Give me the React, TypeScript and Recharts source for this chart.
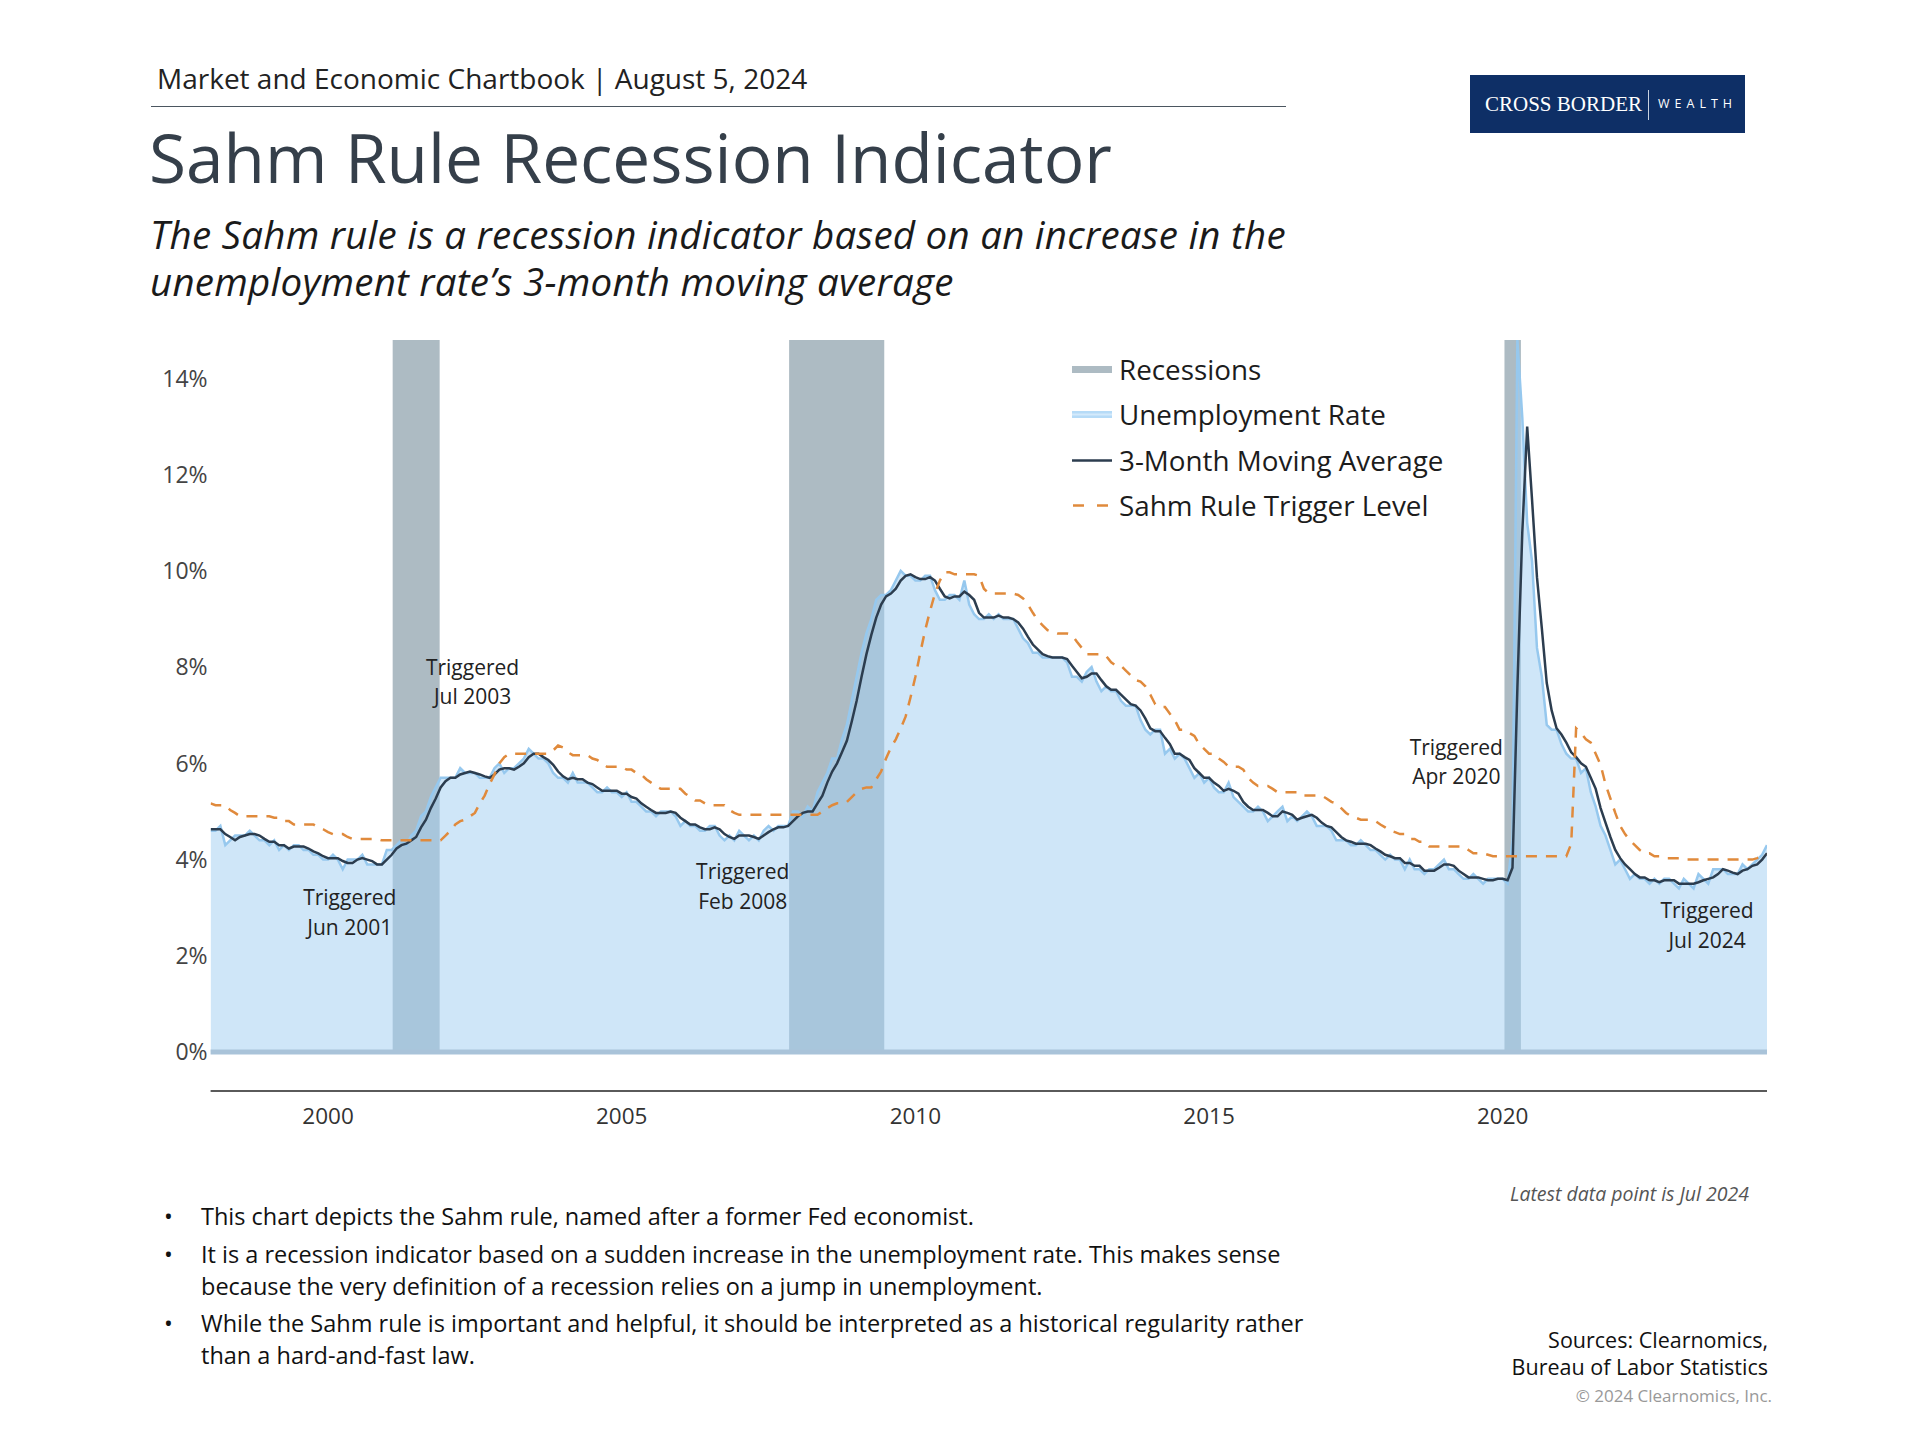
import React from 'react';
import {
  ComposedChart,
  Area,
  Line,
  XAxis,
  YAxis,
  ReferenceArea,
  ReferenceLine,
  ReferenceDot,
  Legend,
} from 'recharts';

// ---------- DATA (monthly, Jan 1998 .. Jul 2024) ----------
const FIRST_YEAR = 1998;

const unemploymentRate: number[] = [
  4.6, 4.6, 4.7, 4.3, 4.4, 4.5, 4.5, 4.5, 4.6, 4.5, 4.4, 4.4, // 1998
  4.3, 4.4, 4.2, 4.3, 4.2, 4.3, 4.3, 4.2, 4.2, 4.1, 4.1, 4.0, // 1999
  4.0, 4.1, 4.0, 3.8, 4.0, 4.0, 4.0, 4.1, 3.9, 3.9, 3.9, 3.9, // 2000
  4.2, 4.2, 4.3, 4.4, 4.3, 4.5, 4.6, 4.9, 5.0, 5.3, 5.5, 5.7, // 2001
  5.7, 5.7, 5.7, 5.9, 5.8, 5.8, 5.8, 5.7, 5.7, 5.7, 5.9, 6.0, // 2002
  5.8, 5.9, 5.9, 6.0, 6.1, 6.3, 6.2, 6.1, 6.1, 6.0, 5.8, 5.7, // 2003
  5.7, 5.6, 5.8, 5.6, 5.6, 5.6, 5.5, 5.4, 5.4, 5.5, 5.4, 5.4, // 2004
  5.3, 5.4, 5.2, 5.2, 5.1, 5.0, 5.0, 4.9, 5.0, 5.0, 5.0, 4.9, // 2005
  4.7, 4.8, 4.7, 4.7, 4.6, 4.6, 4.7, 4.7, 4.5, 4.4, 4.5, 4.4, // 2006
  4.6, 4.5, 4.4, 4.5, 4.4, 4.6, 4.7, 4.6, 4.7, 4.7, 4.7, 5.0, // 2007
  5.0, 4.9, 5.1, 5.0, 5.4, 5.6, 5.8, 6.1, 6.1, 6.5, 6.8, 7.3, // 2008
  7.8, 8.3, 8.7, 9.0, 9.4, 9.5, 9.5, 9.6, 9.8, 10.0, 9.9, 9.9, // 2009
  9.8, 9.8, 9.9, 9.9, 9.6, 9.4, 9.4, 9.5, 9.5, 9.4, 9.8, 9.3, // 2010
  9.1, 9.0, 9.0, 9.1, 9.0, 9.1, 9.0, 9.0, 9.0, 8.8, 8.6, 8.5, // 2011
  8.3, 8.3, 8.2, 8.2, 8.2, 8.2, 8.2, 8.1, 7.8, 7.8, 7.7, 7.9, // 2012
  8.0, 7.7, 7.5, 7.6, 7.5, 7.5, 7.3, 7.2, 7.2, 7.2, 6.9, 6.7, // 2013
  6.6, 6.7, 6.7, 6.2, 6.3, 6.1, 6.2, 6.1, 5.9, 5.7, 5.8, 5.6, // 2014
  5.7, 5.5, 5.4, 5.4, 5.6, 5.3, 5.2, 5.1, 5.0, 5.0, 5.1, 5.0, // 2015
  4.8, 4.9, 5.0, 5.1, 4.8, 4.9, 4.8, 4.9, 5.0, 4.9, 4.7, 4.7, // 2016
  4.7, 4.6, 4.4, 4.4, 4.4, 4.3, 4.3, 4.4, 4.3, 4.2, 4.2, 4.1, // 2017
  4.0, 4.1, 4.0, 4.0, 3.8, 4.0, 3.8, 3.8, 3.7, 3.8, 3.8, 3.9, // 2018
  4.0, 3.8, 3.8, 3.7, 3.6, 3.6, 3.7, 3.6, 3.5, 3.6, 3.6, 3.6, // 2019
  3.6, 3.5, 4.4, 14.8, 13.2, 11.0, 10.2, 8.4, 7.8, 6.8, 6.7, 6.7, // 2020
  6.4, 6.2, 6.1, 6.1, 5.8, 5.9, 5.4, 5.1, 4.7, 4.5, 4.2, 3.9, // 2021
  4.0, 3.8, 3.6, 3.7, 3.6, 3.6, 3.5, 3.6, 3.5, 3.6, 3.6, 3.5, // 2022
  3.4, 3.6, 3.5, 3.4, 3.7, 3.6, 3.5, 3.8, 3.8, 3.8, 3.7, 3.7, // 2023
  3.7, 3.9, 3.8, 3.9, 4.0, 4.1, 4.3, // 2024
];

const movingAverage3M: number[] = [
  4.63, 4.63, 4.63, 4.53, 4.47, 4.40, 4.47, 4.50, 4.53, 4.53, 4.50, 4.43, // 1998
  4.37, 4.37, 4.30, 4.30, 4.23, 4.27, 4.27, 4.27, 4.23, 4.17, 4.13, 4.07, // 1999
  4.03, 4.03, 4.03, 3.97, 3.93, 3.93, 4.00, 4.03, 4.00, 3.97, 3.90, 3.90, // 2000
  4.00, 4.10, 4.23, 4.30, 4.33, 4.40, 4.47, 4.67, 4.83, 5.07, 5.27, 5.50, // 2001
  5.63, 5.70, 5.70, 5.77, 5.80, 5.83, 5.80, 5.77, 5.73, 5.70, 5.77, 5.87, // 2002
  5.90, 5.90, 5.87, 5.93, 6.00, 6.13, 6.20, 6.20, 6.13, 6.07, 5.97, 5.83, // 2003
  5.73, 5.67, 5.70, 5.67, 5.67, 5.60, 5.57, 5.50, 5.43, 5.43, 5.43, 5.43, // 2004
  5.37, 5.37, 5.30, 5.27, 5.17, 5.10, 5.03, 4.97, 4.97, 4.97, 5.00, 4.97, // 2005
  4.87, 4.80, 4.73, 4.73, 4.67, 4.63, 4.63, 4.67, 4.63, 4.53, 4.47, 4.43, // 2006
  4.50, 4.50, 4.50, 4.47, 4.43, 4.50, 4.57, 4.63, 4.67, 4.67, 4.70, 4.80, // 2007
  4.90, 4.97, 5.00, 5.00, 5.17, 5.33, 5.60, 5.83, 6.00, 6.23, 6.47, 6.87, // 2008
  7.30, 7.80, 8.27, 8.67, 9.03, 9.30, 9.47, 9.53, 9.63, 9.80, 9.90, 9.93, // 2009
  9.87, 9.83, 9.83, 9.87, 9.80, 9.63, 9.47, 9.43, 9.47, 9.47, 9.57, 9.50, // 2010
  9.40, 9.13, 9.03, 9.03, 9.03, 9.07, 9.03, 9.03, 9.00, 8.93, 8.80, 8.63, // 2011
  8.47, 8.37, 8.27, 8.23, 8.20, 8.20, 8.20, 8.17, 8.03, 7.90, 7.77, 7.80, // 2012
  7.87, 7.87, 7.73, 7.60, 7.53, 7.53, 7.43, 7.33, 7.23, 7.20, 7.10, 6.93, // 2013
  6.73, 6.67, 6.67, 6.53, 6.40, 6.20, 6.20, 6.13, 6.07, 5.90, 5.80, 5.70, // 2014
  5.70, 5.60, 5.53, 5.43, 5.47, 5.43, 5.37, 5.20, 5.10, 5.03, 5.03, 5.03, // 2015
  4.97, 4.90, 4.90, 5.00, 4.97, 4.93, 4.83, 4.87, 4.90, 4.93, 4.87, 4.77, // 2016
  4.70, 4.67, 4.57, 4.47, 4.40, 4.37, 4.33, 4.33, 4.33, 4.30, 4.23, 4.17, // 2017
  4.10, 4.07, 4.03, 4.03, 3.93, 3.93, 3.87, 3.87, 3.77, 3.77, 3.77, 3.83, // 2018
  3.90, 3.90, 3.87, 3.77, 3.70, 3.63, 3.63, 3.63, 3.60, 3.57, 3.57, 3.60, // 2019
  3.60, 3.57, 3.83, 7.57, 10.80, 13.00, 11.47, 9.87, 8.80, 7.67, 7.10, 6.73, // 2020
  6.60, 6.43, 6.23, 6.13, 6.00, 5.93, 5.70, 5.47, 5.07, 4.77, 4.47, 4.20, // 2021
  4.03, 3.90, 3.80, 3.70, 3.63, 3.63, 3.57, 3.57, 3.53, 3.57, 3.57, 3.57, // 2022
  3.50, 3.50, 3.50, 3.50, 3.53, 3.57, 3.60, 3.63, 3.70, 3.80, 3.77, 3.73, // 2023
  3.70, 3.77, 3.80, 3.87, 3.90, 4.00, 4.13, // 2024
];

const sahmTriggerLevel: number[] = [
  5.17, 5.13, 5.13, 5.13, 5.03, 4.97, 4.90, 4.90, 4.90, 4.90, 4.90, 4.90, // 1998
  4.90, 4.87, 4.87, 4.80, 4.80, 4.73, 4.73, 4.73, 4.73, 4.73, 4.67, 4.63, // 1999
  4.57, 4.53, 4.53, 4.53, 4.47, 4.43, 4.43, 4.43, 4.43, 4.43, 4.43, 4.40, // 2000
  4.40, 4.40, 4.40, 4.40, 4.40, 4.40, 4.40, 4.40, 4.40, 4.40, 4.40, 4.40, // 2001
  4.50, 4.60, 4.73, 4.80, 4.83, 4.90, 4.97, 5.17, 5.33, 5.57, 5.77, 6.00, // 2002
  6.13, 6.20, 6.20, 6.20, 6.20, 6.20, 6.20, 6.20, 6.20, 6.20, 6.27, 6.37, // 2003
  6.33, 6.23, 6.17, 6.17, 6.17, 6.17, 6.10, 6.07, 6.00, 5.93, 5.93, 5.93, // 2004
  5.93, 5.87, 5.87, 5.80, 5.77, 5.67, 5.60, 5.53, 5.47, 5.47, 5.47, 5.47, // 2005
  5.47, 5.37, 5.30, 5.23, 5.23, 5.17, 5.13, 5.13, 5.13, 5.13, 5.03, 4.97, // 2006
  4.93, 4.93, 4.93, 4.93, 4.93, 4.93, 4.93, 4.93, 4.93, 4.93, 4.93, 4.93, // 2007
  4.93, 4.93, 4.93, 4.93, 4.93, 5.00, 5.07, 5.13, 5.17, 5.17, 5.20, 5.30, // 2008
  5.40, 5.47, 5.50, 5.50, 5.67, 5.83, 6.10, 6.33, 6.50, 6.73, 6.97, 7.37, // 2009
  7.80, 8.30, 8.77, 9.17, 9.53, 9.80, 9.97, 9.97, 9.93, 9.93, 9.93, 9.93, // 2010
  9.93, 9.90, 9.63, 9.53, 9.53, 9.53, 9.53, 9.53, 9.53, 9.50, 9.43, 9.30, // 2011
  9.13, 8.97, 8.87, 8.77, 8.73, 8.70, 8.70, 8.70, 8.67, 8.53, 8.40, 8.27, // 2012
  8.27, 8.27, 8.27, 8.23, 8.10, 8.03, 8.03, 7.93, 7.83, 7.73, 7.70, 7.60, // 2013
  7.43, 7.23, 7.17, 7.17, 7.03, 6.90, 6.70, 6.70, 6.63, 6.57, 6.40, 6.30, // 2014
  6.20, 6.20, 6.10, 6.03, 5.93, 5.93, 5.93, 5.87, 5.70, 5.60, 5.53, 5.53, // 2015
  5.53, 5.47, 5.40, 5.40, 5.40, 5.40, 5.40, 5.33, 5.33, 5.33, 5.33, 5.33, // 2016
  5.27, 5.20, 5.17, 5.07, 4.97, 4.90, 4.87, 4.83, 4.83, 4.83, 4.80, 4.73, // 2017
  4.67, 4.60, 4.57, 4.53, 4.53, 4.43, 4.43, 4.37, 4.37, 4.27, 4.27, 4.27, // 2018
  4.27, 4.27, 4.27, 4.27, 4.27, 4.20, 4.13, 4.13, 4.13, 4.10, 4.07, 4.07, // 2019
  4.07, 4.07, 4.07, 4.07, 4.07, 4.07, 4.07, 4.07, 4.07, 4.07, 4.07, 4.07, // 2020
  4.07, 4.07, 4.33, 6.73, 6.63, 6.50, 6.43, 6.20, 5.97, 5.57, 5.27, 4.97, // 2021
  4.70, 4.53, 4.40, 4.30, 4.20, 4.13, 4.13, 4.07, 4.07, 4.03, 4.03, 4.03, // 2022
  4.03, 4.00, 4.00, 4.00, 4.00, 4.00, 4.00, 4.00, 4.00, 4.00, 4.00, 4.00, // 2023
  4.00, 4.00, 4.00, 4.00, 4.03, 4.07, 4.10, // 2024
];

// Recession periods (decimal years)
const recessions = [
  { from: 2001.1, to: 2001.9 },
  { from: 2007.85, to: 2009.47 },
  { from: 2020.03, to: 2020.31 },
];

const yTicks = [0, 2, 4, 6, 8, 10, 12, 14];
const xTicks = [2000, 2005, 2010, 2015, 2020];

const triggerNotes = [
  { year: 2000.37, level: 2.9, lines: ['Triggered', 'Jun 2001'] },
  { year: 2002.46, level: 7.69, lines: ['Triggered', 'Jul 2003'] },
  { year: 2007.06, level: 3.44, lines: ['Triggered', 'Feb 2008'] },
  { year: 2019.21, level: 6.03, lines: ['Triggered', 'Apr 2020'] },
  { year: 2023.48, level: 2.63, lines: ['Triggered', 'Jul 2024'] },
];

const legendItems = [
  { label: 'Recessions', kind: 'recession' },
  { label: 'Unemployment Rate', kind: 'rate' },
  { label: '3-Month Moving Average', kind: 'average' },
  { label: 'Sahm Rule Trigger Level', kind: 'trigger' },
];

const bullets = [
  ['This chart depicts the Sahm rule, named after a former Fed economist.'],
  [
    'It is a recession indicator based on a sudden increase in the unemployment rate. This makes sense',
    'because the very definition of a recession relies on a jump in unemployment.',
  ],
  [
    'While the Sahm rule is important and helpful, it should be interpreted as a historical regularity rather',
    'than a hard-and-fast law.',
  ],
];

// ---------- STYLE ----------
const FONT = '"Open Sans", "Noto Sans", sans-serif';
const COLORS = {
  recession: '#adbbc3',
  areaFill: '#a4d0f2',
  areaStroke: '#96c8ee',
  average: '#2c3d4f',
  trigger: '#e08a3c',
  baseBand: '#a9c3d9',
};

const chartData = unemploymentRate.map((rate, i) => ({
  date: FIRST_YEAR + i / 12,
  rate,
  average: movingAverage3M[i],
  trigger: sahmTriggerLevel[i],
}));

function LegendIcon({ kind }: { kind: string }) {
  if (kind === 'recession') {
    return <rect x={0} y={2} width={40} height={7} fill={COLORS.recession} />;
  }
  if (kind === 'rate') {
    return (
      <g>
        <rect x={0} y={2} width={40} height={7} fill="#b6dbf7" />
        <rect x={0} y={4.5} width={40} height={2} fill="#d4eafb" />
      </g>
    );
  }
  if (kind === 'average') {
    return <line x1={0} x2={40} y1={5.5} y2={5.5} stroke={COLORS.average} strokeWidth={2.5} />;
  }
  return (
    <line x1={1} x2={40} y1={5.5} y2={5.5} stroke={COLORS.trigger} strokeWidth={2.5} strokeDasharray="11 13" />
  );
}

function LegendBox() {
  return (
    <div style={{ fontFamily: FONT, fontSize: 27.8, color: '#1c1c1c' }}>
      {legendItems.map((item) => (
        <div key={item.label} style={{ display: 'flex', alignItems: 'center', height: 45.3 }}>
          <svg width={40} height={11} style={{ marginRight: 7, flex: 'none' }}>
            <LegendIcon kind={item.kind} />
          </svg>
          <span style={{ whiteSpace: 'nowrap', lineHeight: '45px' }}>{item.label}</span>
        </div>
      ))}
    </div>
  );
}

function noteShape(p: any, lines: string[]) {
  return (
    <text
      x={p.cx}
      y={p.cy}
      textAnchor="middle"
      fontFamily={FONT}
      fontSize={21}
      fill="#222"
    >
      <tspan x={p.cx} dy={-7.2}>{lines[0]}</tspan>
      <tspan x={p.cx} dy={29.4}>{lines[1]}</tspan>
    </text>
  );
}

const abs = (s: React.CSSProperties): React.CSSProperties => ({ position: 'absolute', margin: 0, ...s });

export default function App() {
  return (
    <div
      style={{
        position: 'absolute',
        left: 0,
        top: 0,
        width: 1920,
        height: 1440,
        background: '#ffffff',
        fontFamily: FONT,
        overflow: 'hidden',
      }}
    >
      <ComposedChart
        width={1920}
        height={1440}
        data={chartData}
        margin={{ top: 340, right: 153, bottom: 309, left: 150.6 }}
      >
        <XAxis
          type="number"
          dataKey="date"
          domain={[1998, 2024.5]}
          ticks={xTicks}
          tickFormatter={(v: number) => String(v)}
          axisLine={{ stroke: '#5a5a5a', strokeWidth: 2 }}
          tickLine={false}
          tickSize={0}
          tickMargin={17}
          height={40}
          allowDataOverflow
          tick={{ fill: '#333', fontSize: 22.5, fontFamily: FONT }}
        />
        <YAxis
          type="number"
          domain={[-0.81, 14.8]}
          ticks={yTicks}
          tickFormatter={(v: number) => `${v}%`}
          axisLine={false}
          tickLine={false}
          tickSize={0}
          tickMargin={3}
          width={60}
          allowDataOverflow
          tick={{ fill: '#444', fontSize: 23, fontFamily: FONT }}
        />
        {recessions.map((r) => (
          <ReferenceArea
            key={r.from}
            x1={r.from}
            x2={r.to}
            y1={0}
            y2={14.8}
            fill={COLORS.recession}
            fillOpacity={1}
            stroke="none"
            ifOverflow="visible"
            zIndex={50}
          />
        ))}
        <Area
          type="linear"
          dataKey="rate"
          baseValue={0}
          fill={COLORS.areaFill}
          fillOpacity={0.53}
          stroke={COLORS.areaStroke}
          strokeWidth={2.5}
          dot={false}
          activeDot={false}
          isAnimationActive={false}
        />
        <ReferenceLine y={0} stroke={COLORS.baseBand} strokeWidth={5} zIndex={150} />
        <Line
          type="linear"
          dataKey="average"
          stroke={COLORS.average}
          strokeWidth={2.5}
          dot={false}
          activeDot={false}
          isAnimationActive={false}
        />
        <Line
          type="linear"
          dataKey="trigger"
          stroke={COLORS.trigger}
          strokeWidth={2.5}
          strokeDasharray="11 9"
          dot={false}
          activeDot={false}
          isAnimationActive={false}
        />
        {triggerNotes.map((n) => (
          <ReferenceDot
            key={n.lines[1]}
            x={n.year}
            y={n.level}
            r={1}
            ifOverflow="visible"
            shape={(p: any) => noteShape(p, n.lines)}
          />
        ))}
        <Legend
          layout="vertical"
          align="center"
          verticalAlign="middle"
          content={() => <LegendBox />}
          wrapperStyle={{ left: 1072, top: 347, width: 460, height: 182 }}
        />
      </ComposedChart>

      {/* Header */}
      <div style={abs({ left: 157, top: 64, fontSize: 28, lineHeight: 1, color: '#222', whiteSpace: 'nowrap' })}>
        Market and Economic Chartbook | August 5, 2024
      </div>
      <div style={abs({ left: 151, top: 106, width: 1135, borderTop: '1.5px solid #4b5660' })} />

      {/* Logo */}
      <div style={abs({ left: 1470, top: 75, width: 275, height: 58, background: '#0e2f66' })}>
        <div
          style={abs({
            left: 15,
            top: 0,
            height: 58,
            lineHeight: '58px',
            fontFamily: '"Liberation Serif", serif',
            fontSize: 21,
            color: '#fff',
            whiteSpace: 'nowrap',
          })}
        >
          CROSS BORDER
        </div>
        <div style={abs({ left: 178, top: 15, width: 1, height: 30, background: '#c9d2e0' })} />
        <div
          style={abs({
            left: 188,
            top: 0,
            height: 58,
            lineHeight: '58px',
            fontSize: 12.5,
            letterSpacing: 5,
            color: '#fff',
            whiteSpace: 'nowrap',
          })}
        >
          WEALTH
        </div>
      </div>

      {/* Title */}
      <div style={abs({ left: 149, top: 111, fontSize: 67.5, lineHeight: '92px', color: '#353f4a', whiteSpace: 'nowrap' })}>
        Sahm Rule Recession Indicator
      </div>
      <div
        style={abs({
          left: 150,
          top: 211,
          fontSize: 38.5,
          lineHeight: '47px',
          letterSpacing: 0.25,
          fontStyle: 'italic',
          color: '#1a1a1a',
          whiteSpace: 'nowrap',
        })}
      >
        The Sahm rule is a recession indicator based on an increase in the
        <br />
        unemployment rate’s 3-month moving average
      </div>

      {/* Footnote */}
      <div
        style={abs({
          right: 171,
          top: 1184,
          fontSize: 19.5,
          lineHeight: 1,
          fontStyle: 'italic',
          color: '#555',
          whiteSpace: 'nowrap',
        })}
      >
        Latest data point is Jul 2024
      </div>

      {/* Bullets */}
      <div style={abs({ left: 0, top: 1200, fontSize: 23.5, lineHeight: '32px', color: '#111' })}>
        {bullets.map((lines, i) => (
          <div key={i} style={{ position: 'relative', marginBottom: 5.5 }}>
            <span style={{ position: 'absolute', left: 164 }}>•</span>
            <div style={{ marginLeft: 201, whiteSpace: 'nowrap' }}>
              {lines.map((l, j) => (
                <div key={j}>{l}</div>
              ))}
            </div>
          </div>
        ))}
      </div>

      {/* Sources */}
      <div
        style={abs({
          right: 152,
          top: 1326,
          fontSize: 21.5,
          lineHeight: '27px',
          color: '#111',
          textAlign: 'right',
          whiteSpace: 'nowrap',
        })}
      >
        Sources: Clearnomics,
        <br />
        Bureau of Labor Statistics
      </div>
      <div
        style={abs({ right: 148, top: 1387, fontSize: 17, lineHeight: 1, color: '#999', whiteSpace: 'nowrap' })}
      >
        © 2024 Clearnomics, Inc.
      </div>
    </div>
  );
}
